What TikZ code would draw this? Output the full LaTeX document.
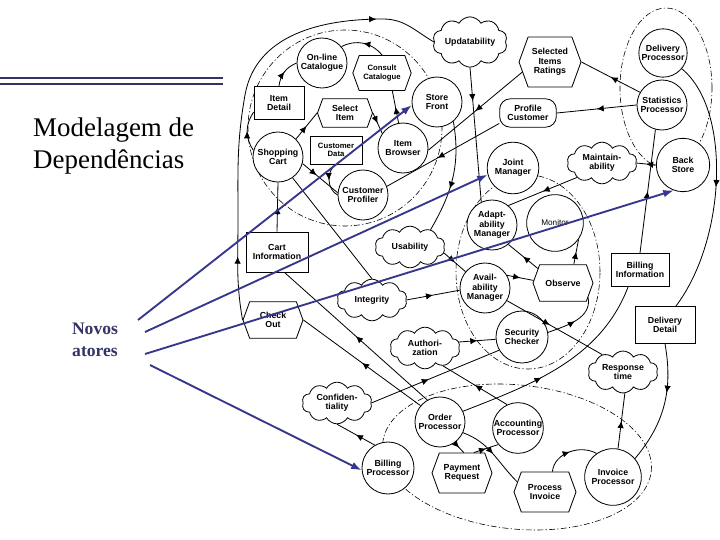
\documentclass[tikz,border=0pt]{standalone}
\usepackage{fontspec}
\setmainfont{Liberation Serif}
\setsansfont{Liberation Sans}
\usepackage{tikz}
\usetikzlibrary{arrows.meta,shapes.geometric,shapes.symbols,decorations.markings}
\definecolor{cnavy}{RGB}{51,51,102}
\definecolor{cblue}{RGB}{54,54,140}
\newcommand{\lbl}{\sffamily\bfseries\fontsize{7.5}{8}\selectfont}
\newcommand{\lbls}{\sffamily\bfseries\fontsize{6.6}{7.2}\selectfont}
\newcommand{\lblr}{\sffamily\fontsize{7}{7.6}\selectfont}

\begin{document}
\begin{tikzpicture}[x=0.03cm, y=-0.03cm,
  actor/.style={circle, draw, line width=0.7pt, fill=white, inner sep=0pt, minimum size=1.5cm, align=center, font=\lbl},
  task/.style={signal, signal to=west and east, signal pointer angle=140, draw, line width=0.7pt, fill=white,
               inner sep=1pt, minimum width=1.8cm, minimum height=1.1cm, align=center, font=\lbl},
  res/.style={rectangle, draw, line width=0.7pt, fill=white, inner sep=1pt, minimum width=1.6cm, minimum height=1cm, align=center, font=\lbl},
  goal/.style={rectangle, rounded corners=9pt, draw, line width=0.7pt, fill=white, inner sep=1pt,
               minimum width=1.7cm, minimum height=0.85cm, align=center, font=\lbl},
  soft/.style={cloud, cloud puffs=10, cloud puff arc=120, aspect=1.8, draw, line width=0.7pt, fill=white, inner sep=0pt,
               minimum width=2.1cm, minimum height=1.25cm, align=center, font=\lbl},
  bound/.style={draw, line width=0.5pt, dash pattern=on 5pt off 2pt on 1pt off 2pt},
  dep/.style={draw, line width=0.7pt, postaction={decorate, decoration={markings,
              mark=at position #1 with {\arrow{Latex[length=6pt,width=5.5pt]}}}}},
  dep/.default=0.5,
  dep2/.style 2 args={draw, line width=0.7pt, postaction={decorate, decoration={markings,
              mark=at position #1 with {\arrow{Latex[length=6pt,width=5.5pt]}},
              mark=at position #2 with {\arrow{Latex[length=6pt,width=5.5pt]}}}}},
  pointer/.style={-{Latex[length=9pt,width=6.5pt]}, line width=1.6pt, draw=cblue}]
\useasboundingbox (0,0) rectangle (720,540);

% slide title
\draw[cnavy, line width=1.1pt] (0,78) -- (223,78);
\draw[cnavy, line width=0.9pt] (0,84) -- (223,84);
\node[anchor=north west, align=left, inner sep=0pt, font=\fontsize{23}{27}\selectfont] (title) at (33,118) {Modelagem de\\Dependências};
\node[align=center, inner sep=0pt, text=cnavy, font=\bfseries\fontsize{15}{18.7}\selectfont] (novos) at (95,340) {Novos\\atores};

% actor boundaries
\draw[bound] (345,128) ellipse [x radius=2.91cm, y radius=2.94cm];
\draw[bound] (666,88) ellipse [x radius=1.38cm, y radius=2.4cm];
\draw[bound] (528,272) ellipse [x radius=2.16cm, y radius=2.91cm];
\draw[bound, rotate around={-6:(517,457)}] (517,457) ellipse [x radius=4.05cm, y radius=2.16cm];

% store side
\node[actor] (olc) at (322,63) {On-line\\Catalogue};
\node[task, minimum width=1.75cm, minimum height=1.05cm, font=\lbls] (concat) at (382,73) {Consult\\Catalogue};
\node[res, minimum width=1.5cm] (idetail) at (279,103) {Item\\Detail};
\node[task, minimum width=1.65cm, minimum height=0.85cm] (selitem) at (345,113) {Select\\Item};
\node[actor] (store) at (437,102) {Store\\Front};
\node[actor] (cart) at (278,157) {Shopping\\Cart};
\node[res, minimum width=1.56cm, minimum height=0.84cm, font=\lbls] (cdata) at (336,150) {Customer\\Data};
\node[actor] (browser) at (403,148) {Item\\Browser};
\node[actor] (profiler) at (363,195) {Customer\\Profiler};
\node[res, minimum width=1.86cm, minimum height=1.2cm] (cinfo) at (277,252) {Cart\\Information};
\node[task] (checkout) at (273,320) {Check\\Out};

% back office
\node[soft] (updat) at (470,42) {Updatability};
\node[task, minimum width=1.86cm, minimum height=1.5cm] (ratings) at (550,62) {Selected\\Items\\Ratings};
\node[goal] (pcust) at (528,113) {Profile\\Customer};
\node[actor, minimum size=1.45cm] (delivp) at (663,53) {Delivery\\Processor};
\node[actor] (statp) at (662,105) {Statistics\\Processor};
\node[actor, minimum size=1.6cm] (back) at (683,165) {Back\\Store};
\node[res, minimum width=1.74cm] (binfo) at (640,270) {Billing\\Information};
\node[res, minimum width=1.8cm, minimum height=1.1cm] (ddetail) at (665,325) {Delivery\\Detail};

% adaptation
\node[actor, minimum size=1.55cm] (joint) at (513,168) {Joint\\Manager};
\node[soft] (maint) at (602,163) {Maintain-\\ability};
\node[actor] (adapt) at (492,225) {Adapt-\\ability\\Manager};
\node[actor, minimum size=1.7cm, font=\lblr] (monitor) at (555,223) {Monitor};
\node[soft] (usab) at (410,247) {Usability};
\node[actor] (avail) at (485,288) {Avail-\\ability\\Manager};
\node[task] (observe) at (563,283) {Observe};
\node[soft] (integ) at (372,300) {Integrity};
\node[actor, minimum size=1.56cm] (secur) at (522,337) {Security\\Checker};
\node[soft] (author) at (425,348) {Authori-\\zation};
\node[soft] (resp) at (623,372) {Response\\time};
\node[soft] (confid) at (337,403) {Confiden-\\tiality};

% order side
\node[actor] (orderp) at (440,422) {Order\\Processor};
\node[actor] (acctp) at (518,428) {Accounting\\Processor};
\node[actor, minimum size=1.56cm] (billp) at (388,468) {Billing\\Processor};
\node[task, minimum height=1.2cm] (payreq) at (462,473) {Payment\\Request};
\node[task, minimum width=1.86cm, minimum height=1.2cm] (procinv) at (545,492) {Process\\Invoice};
\node[actor, minimum size=1.7cm] (invp) at (613,477) {Invoice\\Processor};

% dependencies
\draw[dep] (cart.165) to[bend left=35] (idetail.200);
\draw[dep] (idetail.north) to[bend left=30] (olc.west);
\draw[dep] (cart.45) -- (selitem.west);
\draw[dep] (selitem.east) -- (browser.145);
\draw[dep] (browser.100) -- (concat.-60);
\draw[dep] (concat.north) to[bend right=40] (olc.40);
\draw[dep=0.4] (cart.-15) -- (profiler.175);
\draw[dep] (cdata.south) to[bend right=60] (profiler.west);
\draw[dep] (cinfo.north) -- (cart.south);
\draw[line width=0.7pt] (cart.-55) -- (integ.north);
\draw[dep2={0.14}{0.86}] (checkout.west) to[out=100, in=-90] (238,220) to[out=90, in=-100] (245,95)
  to[out=80, in=180] (383,19) to[out=0, in=150] (updat.west);
\draw[dep] (ratings.200) -- (browser.-5);
\draw[dep=0.55] (pcust.200) -- (profiler.20);
\draw[dep] (statp.150) -- (ratings.east);
\draw[dep] (statp.west) -- (pcust.east);
\draw[dep] (back.west) -- (maint.east);
\draw[dep] (maint.-150) -- (adapt.50);
\draw[dep=0.25] (updat.south) -- (adapt.115);
\draw[dep=0.6] (store.-50) to[out=-80, in=60] (usab.40);
\draw[dep] (usab.-10) -- (avail.140);
\draw[dep] (integ.east) -- (avail.185);
\draw[dep] (avail.30) -- (observe.175);
\draw[dep] (observe.150) -- (adapt.-50);
\draw[dep] (observe.60) -- (monitor.-35);
\draw[dep] (secur.10) to[out=20, in=-80] (observe.-30);
\draw[dep=0.45] (avail.-30) -- (resp.140);
\draw[dep] (author.10) -- (secur.185);
\draw[dep=0.45] (confid.east) -- (secur.-150);
\draw[dep] (billp.120) -- (confid.south);
\draw[dep] (acctp.115) -- (author.-45);
\draw[dep] (orderp.140) -- (checkout.east);
\draw[dep] (orderp.120) -- (cinfo.-70);
\draw[dep=0.4] (orderp.25) .. controls (530,385) and (600,360) .. (binfo.-125);
\draw[dep] (orderp.-55) -- (payreq.85);
\draw[dep] (payreq.60) -- (acctp.-140);
\draw[dep] (orderp.-25) to[out=-20, in=135] (procinv.160);
\draw[dep] (procinv.70) to[out=85, in=150] (invp.125);
\draw[dep] (invp.80) -- (resp.-85);
\draw[dep=0.4] (ddetail.south) to[out=-80, in=50] (invp.40);
\draw[dep] (delivp.-40) .. controls (732,110) and (726,240) .. (ddetail.60);
\draw[dep] (binfo.north) -- (statp.-105);

% new actors
\coordinate (nv1) at (138,320);
\coordinate (nv2) at (145,332);
\coordinate (nv3) at (145,354);
\coordinate (nv4) at (150,365);
\draw[pointer] (nv1) -- (store.187);
\draw[pointer] (nv2) -- (joint.195);
\draw[pointer] (nv3) -- (back.250);
\draw[pointer] (nv4) -- (billp.185);
\end{tikzpicture}
\end{document}
